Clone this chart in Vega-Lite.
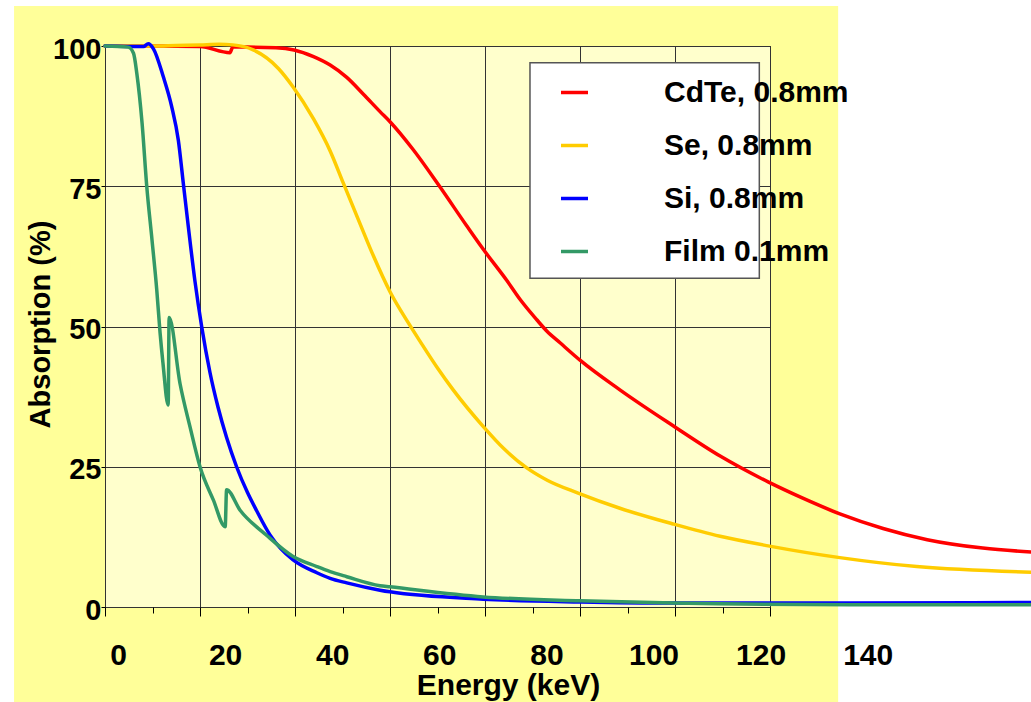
{
  "$schema": "https://vega.github.io/schema/vega-lite/v6.json",
  "width": 665,
  "height": 561,
  "autosize": {"type": "none"},
  "padding": {"left": 105, "top": 46, "right": 261, "bottom": 95},
  "background": "#FFFF99",
  "config": {
    "font": "Liberation Sans",
    "view": {"fill": "#FFFFCC", "stroke": "#000000", "strokeWidth": 1}
  },
  "datasets": {
    "curves": [
      {"material": "CdTe, 0.8mm", "energy": 0, "absorption": 100},
      {"material": "CdTe, 0.8mm", "energy": 10, "absorption": 100},
      {"material": "CdTe, 0.8mm", "energy": 20, "absorption": 99.9},
      {"material": "CdTe, 0.8mm", "energy": 26.3, "absorption": 98.8},
      {"material": "CdTe, 0.8mm", "energy": 26.9, "absorption": 99.8},
      {"material": "CdTe, 0.8mm", "energy": 30, "absorption": 99.8},
      {"material": "CdTe, 0.8mm", "energy": 36, "absorption": 99.7},
      {"material": "CdTe, 0.8mm", "energy": 39.8, "absorption": 99.3},
      {"material": "CdTe, 0.8mm", "energy": 43.9, "absorption": 98.1},
      {"material": "CdTe, 0.8mm", "energy": 47.4, "absorption": 96.6},
      {"material": "CdTe, 0.8mm", "energy": 50.9, "absorption": 94.4},
      {"material": "CdTe, 0.8mm", "energy": 54.4, "absorption": 91.4},
      {"material": "CdTe, 0.8mm", "energy": 57.9, "absorption": 88.3},
      {"material": "CdTe, 0.8mm", "energy": 60, "absorption": 86.5},
      {"material": "CdTe, 0.8mm", "energy": 64.9, "absorption": 81.5},
      {"material": "CdTe, 0.8mm", "energy": 70.5, "absorption": 74.9},
      {"material": "CdTe, 0.8mm", "energy": 76.1, "absorption": 68.0},
      {"material": "CdTe, 0.8mm", "energy": 79.6, "absorption": 63.8},
      {"material": "CdTe, 0.8mm", "energy": 84.6, "absorption": 58.2},
      {"material": "CdTe, 0.8mm", "energy": 87.4, "absorption": 54.8},
      {"material": "CdTe, 0.8mm", "energy": 90.9, "absorption": 51.2},
      {"material": "CdTe, 0.8mm", "energy": 93, "absorption": 49.2},
      {"material": "CdTe, 0.8mm", "energy": 95.8, "absorption": 47.1},
      {"material": "CdTe, 0.8mm", "energy": 100, "absorption": 44.0},
      {"material": "CdTe, 0.8mm", "energy": 108.4, "absorption": 38.7},
      {"material": "CdTe, 0.8mm", "energy": 119.6, "absorption": 32.3},
      {"material": "CdTe, 0.8mm", "energy": 129.5, "absorption": 26.9},
      {"material": "CdTe, 0.8mm", "energy": 139.6, "absorption": 22.3},
      {"material": "CdTe, 0.8mm", "energy": 146.9, "absorption": 19.4},
      {"material": "CdTe, 0.8mm", "energy": 154.7, "absorption": 16.6},
      {"material": "CdTe, 0.8mm", "energy": 163.8, "absorption": 14.0},
      {"material": "CdTe, 0.8mm", "energy": 173.1, "absorption": 12.0},
      {"material": "CdTe, 0.8mm", "energy": 184.8, "absorption": 10.5},
      {"material": "CdTe, 0.8mm", "energy": 195, "absorption": 9.8},
      {"material": "Se, 0.8mm", "energy": 0, "absorption": 100},
      {"material": "Se, 0.8mm", "energy": 10, "absorption": 100},
      {"material": "Se, 0.8mm", "energy": 15, "absorption": 100.1},
      {"material": "Se, 0.8mm", "energy": 20, "absorption": 100.2},
      {"material": "Se, 0.8mm", "energy": 24, "absorption": 100.3},
      {"material": "Se, 0.8mm", "energy": 26.9, "absorption": 100.2},
      {"material": "Se, 0.8mm", "energy": 31.2, "absorption": 99.3},
      {"material": "Se, 0.8mm", "energy": 36.5, "absorption": 96.0},
      {"material": "Se, 0.8mm", "energy": 39.6, "absorption": 92.7},
      {"material": "Se, 0.8mm", "energy": 43.9, "absorption": 87.0},
      {"material": "Se, 0.8mm", "energy": 47.4, "absorption": 81.3},
      {"material": "Se, 0.8mm", "energy": 50.2, "absorption": 75.5},
      {"material": "Se, 0.8mm", "energy": 53.7, "absorption": 68.3},
      {"material": "Se, 0.8mm", "energy": 56.5, "absorption": 62.6},
      {"material": "Se, 0.8mm", "energy": 60, "absorption": 56.2},
      {"material": "Se, 0.8mm", "energy": 63.9, "absorption": 50.6},
      {"material": "Se, 0.8mm", "energy": 66.3, "absorption": 47.4},
      {"material": "Se, 0.8mm", "energy": 70, "absorption": 42.6},
      {"material": "Se, 0.8mm", "energy": 73.3, "absorption": 38.7},
      {"material": "Se, 0.8mm", "energy": 79.6, "absorption": 32.2},
      {"material": "Se, 0.8mm", "energy": 84, "absorption": 28.2},
      {"material": "Se, 0.8mm", "energy": 88.8, "absorption": 24.8},
      {"material": "Se, 0.8mm", "energy": 93.1, "absorption": 22.6},
      {"material": "Se, 0.8mm", "energy": 99.6, "absorption": 20.3},
      {"material": "Se, 0.8mm", "energy": 108.4, "absorption": 17.6},
      {"material": "Se, 0.8mm", "energy": 119.6, "absorption": 14.8},
      {"material": "Se, 0.8mm", "energy": 129.5, "absorption": 12.6},
      {"material": "Se, 0.8mm", "energy": 139.6, "absorption": 10.9},
      {"material": "Se, 0.8mm", "energy": 154.7, "absorption": 8.8},
      {"material": "Se, 0.8mm", "energy": 170.9, "absorption": 7.2},
      {"material": "Se, 0.8mm", "energy": 195, "absorption": 6.2},
      {"material": "Si, 0.8mm", "energy": 0, "absorption": 100},
      {"material": "Si, 0.8mm", "energy": 8.1, "absorption": 99.9},
      {"material": "Si, 0.8mm", "energy": 9.1, "absorption": 100.4},
      {"material": "Si, 0.8mm", "energy": 10.2, "absorption": 99.5},
      {"material": "Si, 0.8mm", "energy": 12.28, "absorption": 94.5},
      {"material": "Si, 0.8mm", "energy": 14.04, "absorption": 89.2},
      {"material": "Si, 0.8mm", "energy": 15.44, "absorption": 83.2},
      {"material": "Si, 0.8mm", "energy": 16.49, "absorption": 75.5},
      {"material": "Si, 0.8mm", "energy": 17.54, "absorption": 67.8},
      {"material": "Si, 0.8mm", "energy": 18.95, "absorption": 58.0},
      {"material": "Si, 0.8mm", "energy": 20.35, "absorption": 50.0},
      {"material": "Si, 0.8mm", "energy": 22.1, "absorption": 41.8},
      {"material": "Si, 0.8mm", "energy": 23.8, "absorption": 35.6},
      {"material": "Si, 0.8mm", "energy": 25.6, "absorption": 30.2},
      {"material": "Si, 0.8mm", "energy": 27.7, "absorption": 25.0},
      {"material": "Si, 0.8mm", "energy": 30, "absorption": 20.4},
      {"material": "Si, 0.8mm", "energy": 31.9, "absorption": 17.2},
      {"material": "Si, 0.8mm", "energy": 34.7, "absorption": 12.9},
      {"material": "Si, 0.8mm", "energy": 37, "absorption": 10.4},
      {"material": "Si, 0.8mm", "energy": 39.6, "absorption": 8.4},
      {"material": "Si, 0.8mm", "energy": 44.6, "absorption": 6.1},
      {"material": "Si, 0.8mm", "energy": 47.4, "absorption": 5.1},
      {"material": "Si, 0.8mm", "energy": 50.9, "absorption": 4.3},
      {"material": "Si, 0.8mm", "energy": 57.9, "absorption": 3.0},
      {"material": "Si, 0.8mm", "energy": 60, "absorption": 2.7},
      {"material": "Si, 0.8mm", "energy": 79.6, "absorption": 1.4},
      {"material": "Si, 0.8mm", "energy": 100, "absorption": 0.9},
      {"material": "Si, 0.8mm", "energy": 119.6, "absorption": 0.7},
      {"material": "Si, 0.8mm", "energy": 156.8, "absorption": 0.7},
      {"material": "Si, 0.8mm", "energy": 195, "absorption": 0.8},
      {"material": "Film 0.1mm", "energy": 0, "absorption": 100},
      {"material": "Film 0.1mm", "energy": 4.9, "absorption": 99.8},
      {"material": "Film 0.1mm", "energy": 6.0, "absorption": 98.7},
      {"material": "Film 0.1mm", "energy": 6.7, "absorption": 95.1},
      {"material": "Film 0.1mm", "energy": 7.8, "absorption": 86.3},
      {"material": "Film 0.1mm", "energy": 8.8, "absorption": 74.9},
      {"material": "Film 0.1mm", "energy": 9.9, "absorption": 65.4},
      {"material": "Film 0.1mm", "energy": 10.9, "absorption": 56.5},
      {"material": "Film 0.1mm", "energy": 11.6, "absorption": 48.8},
      {"material": "Film 0.1mm", "energy": 12.2, "absorption": 43.5},
      {"material": "Film 0.1mm", "energy": 13.3, "absorption": 36.0},
      {"material": "Film 0.1mm", "energy": 13.5, "absorption": 51.6},
      {"material": "Film 0.1mm", "energy": 15.8, "absorption": 39.8},
      {"material": "Film 0.1mm", "energy": 17.9, "absorption": 32.1},
      {"material": "Film 0.1mm", "energy": 20.0, "absorption": 25.0},
      {"material": "Film 0.1mm", "energy": 22.8, "absorption": 19.1},
      {"material": "Film 0.1mm", "energy": 25.3, "absorption": 14.3},
      {"material": "Film 0.1mm", "energy": 25.6, "absorption": 20.9},
      {"material": "Film 0.1mm", "energy": 28.4, "absorption": 17.3},
      {"material": "Film 0.1mm", "energy": 34.0, "absorption": 12.8},
      {"material": "Film 0.1mm", "energy": 39.6, "absorption": 9.0},
      {"material": "Film 0.1mm", "energy": 44.6, "absorption": 7.2},
      {"material": "Film 0.1mm", "energy": 47.4, "absorption": 6.3},
      {"material": "Film 0.1mm", "energy": 50.9, "absorption": 5.4},
      {"material": "Film 0.1mm", "energy": 57.9, "absorption": 3.8},
      {"material": "Film 0.1mm", "energy": 60, "absorption": 3.6},
      {"material": "Film 0.1mm", "energy": 79.6, "absorption": 1.8},
      {"material": "Film 0.1mm", "energy": 100, "absorption": 1.1},
      {"material": "Film 0.1mm", "energy": 119.6, "absorption": 0.7},
      {"material": "Film 0.1mm", "energy": 156.8, "absorption": 0.4},
      {"material": "Film 0.1mm", "energy": 195, "absorption": 0.4}
    ]
  },
  "resolve": {"axis": {"x": "independent", "y": "independent"}},
  "layer": [
    {
      "data": {"values": [{}]},
      "mark": {"type": "rect", "fill": null, "stroke": "#FFFFFF", "strokeWidth": 200, "clip": false},
      "encoding": {
        "x": {"datum": -40.2, "type": "quantitative", "scale": {"domain": [0, 140], "nice": false, "zero": false}, "axis": null},
        "x2": {"datum": 175.4},
        "y": {"datum": 124.96, "type": "quantitative", "scale": {"domain": [0, 100], "nice": false, "zero": false}, "axis": null},
        "y2": {"datum": -34.76}
      }
    },
    {
      "data": {"name": "curves"},
      "mark": {"type": "line", "strokeWidth": 3.5, "clip": false, "interpolate": "monotone", "strokeJoin": "round", "strokeCap": "round"},
      "encoding": {
        "x": {
          "field": "energy", "type": "quantitative",
          "scale": {"domain": [0, 140], "nice": false, "zero": false},
          "axis": {
            "orient": "bottom", "values": [0, 20, 40, 60, 80, 100, 120, 140],
            "grid": true, "gridColor": "#333333", "gridWidth": 1,
            "ticks": false, "labels": false, "domain": false, "title": null, "zindex": 0
          }
        },
        "y": {
          "field": "absorption", "type": "quantitative",
          "scale": {"domain": [0, 100], "nice": false, "zero": false},
          "axis": {
            "orient": "left",
            "values": [0, 25, 50, 75, 100],
            "grid": true, "gridColor": "#333333", "gridWidth": 1,
            "domain": false, "tickSize": 4, "tickColor": "#000000",
            "labelFontSize": 29, "labelFontWeight": "bold", "labelColor": "#000000",
            "labelPadding": 0, "labelOffset": 3,
            "title": "Absorption (%)", "titleFontSize": 29, "titleFontWeight": "bold", "titleColor": "#000000",
            "titleX": -65, "titleY": 278, "titleAngle": 270, "titleAlign": "center", "titleBaseline": "middle",
            "zindex": 0
          }
        },
        "color": {
          "field": "material", "type": "nominal",
          "scale": {"domain": ["CdTe, 0.8mm", "Se, 0.8mm", "Si, 0.8mm", "Film 0.1mm"], "range": ["#FF0000", "#FFCC00", "#0000FF", "#339966"]},
          "legend": {
            "orient": "none", "legendX": 454, "legendY": 31, "title": null, "padding": 0,
            "symbolType": "stroke", "symbolSize": 729, "symbolStrokeWidth": 3.5,
            "labelFontSize": 30, "labelFontWeight": "bold", "labelColor": "#000000",
            "labelOffset": 74, "rowPadding": 22, "labelLimit": 0
          }
        }
      }
    },
    {
      "data": {"values": [{}]},
      "mark": {"type": "rect", "fill": "#FFFFFF", "stroke": "#555555", "strokeWidth": 1.5, "clip": false},
      "encoding": {
        "x": {
          "datum": 89.47, "type": "quantitative",
          "scale": {"domain": [0, 140], "nice": false, "zero": false},
          "axis": {
            "orient": "bottom", "values": [0, 10, 20, 30, 40, 50, 60, 70, 80, 90, 100, 110, 120, 130, 140],
            "grid": false, "domain": false, "ticks": true, "tickColor": "#000000", "tickWidth": 1,
            "tickSize": {"condition": {"test": "datum.value % 20 !== 0", "value": 6}, "value": 9},
            "labelExpr": "datum.value % 20 === 0 ? datum.label : ''",
            "labelOffset": {"expr": "13 + datum.value * 0.605"},
            "labelFontSize": 30, "labelFontWeight": "bold", "labelColor": "#000000",
            "labelPadding": 24, "labelFlush": false, "labelOverlap": false, "labelBound": false,
            "title": "Energy (keV)", "titleFontSize": 30, "titleFontWeight": "bold", "titleColor": "#000000",
            "titleX": 403, "titleY": 87, "titleAlign": "center", "titleBaseline": "alphabetic",
            "zindex": 1
          }
        },
        "x2": {"datum": 137.75},
        "y": {"datum": 97.02, "type": "quantitative", "scale": {"domain": [0, 100], "nice": false, "zero": false}, "axis": null},
        "y2": {"datum": 58.59}
      }
    }
  ]
}
